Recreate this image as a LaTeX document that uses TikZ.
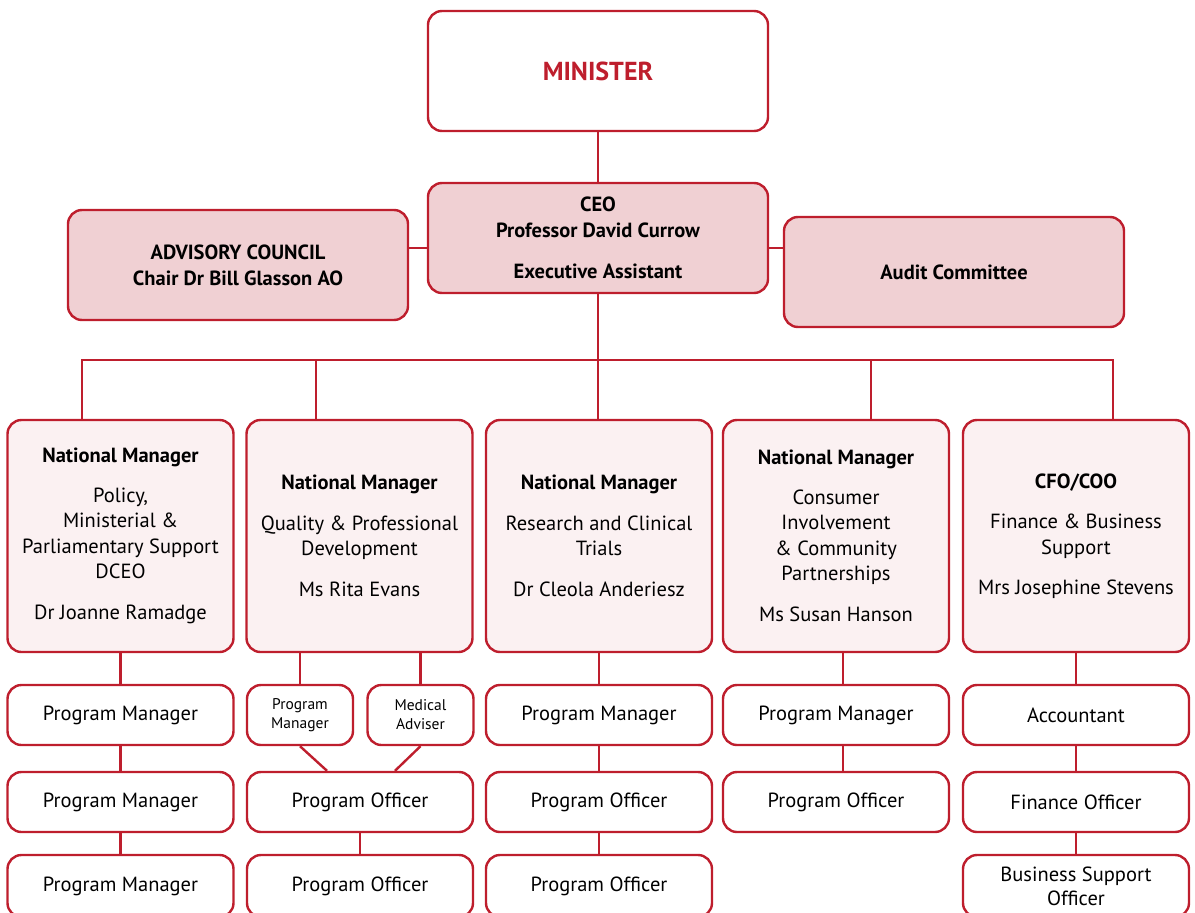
\documentclass[tikz,border=0pt]{standalone}
\usepackage{fontspec}
\setmainfont{PT Sans}
\usepackage{tikz}
\usetikzlibrary{positioning}
\definecolor{orgred}{RGB}{190,30,45}
\definecolor{leadpink}{RGB}{240,208,211}
\definecolor{mgrpink}{RGB}{251,241,242}

\begin{document}
\begin{tikzpicture}[x=1pt,y=-1pt,
	box/.style={draw=orgred, line width=2.4pt, rounded corners=14pt, fill=white, align=center,
		inner sep=0pt, font=\fontsize{20.5}{25.5}\selectfont},
	lead/.style={box, fill=leadpink, minimum width=340pt, minimum height=110pt,
		font=\bfseries\fontsize{20.5}{26}\selectfont},
	mgr/.style={box, fill=mgrpink, minimum width=226pt, minimum height=232pt},
	staff/.style={box, minimum width=226pt, minimum height=60pt},
	staffend/.style={staff, minimum height=62pt, font=\fontsize{20.5}{24}\selectfont},
	small/.style={box, minimum width=106pt, minimum height=60pt, font=\fontsize{15.5}{19}\selectfont},
	link/.style={draw=orgred, line width=2.4pt}]
	\useasboundingbox (0,0) rectangle (1195,913);

	% top
	\node[box, minimum width=340pt, minimum height=120pt, text=orgred,
		font=\bfseries\fontsize{26}{30}\selectfont] (minister) at (598,71) {MINISTER};
	\node[lead] (ceo) at (598,238) {CEO\\Professor David Currow\\[15pt]Executive Assistant};
	\node[lead] (adv) at (238,265) {ADVISORY COUNCIL\\Chair Dr Bill Glasson AO};
	\node[lead] (audit) at (954,272) {Audit Committee};

	% national managers
	\node[mgr] (nm1) at (120.5,536) {\textbf{National Manager}\\[14pt]Policy,\\Ministerial \&\\Parliamentary Support\\DCEO\\[15pt]Dr Joanne Ramadge};
	\node[mgr] (nm2) at (359.5,536) {\textbf{National Manager}\\[15pt]Quality \& Professional\\Development\\[15pt]Ms Rita Evans};
	\node[mgr] (nm3) at (599,536) {\textbf{National Manager}\\[15pt]Research and Clinical\\Trials\\[15pt]Dr Cleola Anderiesz};
	\node[mgr] (nm4) at (836,536) {\textbf{National Manager}\\[14pt]Consumer\\Involvement\\\& Community\\Partnerships\\[15pt]Ms Susan Hanson};
	\node[mgr] (nm5) at (1076,536) {\textbf{CFO/COO}\\[15pt]Finance \& Business\\Support\\[15pt]Mrs Josephine Stevens};

	% staff
	\node[staff] (pm1a) at (120.5,715) {Program Manager};
	\node[staff] (pm1b) at (120.5,802) {Program Manager};
	\node[staffend] (pm1c) at (120.5,886) {Program Manager};
	\node[small] (pm2) at (300,715) {Program\\Manager};
	\node[small] (med2) at (420.5,715) {Medical\\Adviser};
	\node[staff] (po2a) at (360,802) {Program Officer};
	\node[staffend] (po2b) at (360,886) {Program Officer};
	\node[staff] (pm3) at (599,715) {Program Manager};
	\node[staff] (po3a) at (599,802) {Program Officer};
	\node[staffend] (po3b) at (599,886) {Program Officer};
	\node[staff] (pm4) at (836,715) {Program Manager};
	\node[staff] (po4) at (836,802) {Program Officer};
	\node[staff] (acc5) at (1076,715) {Accountant};
	\node[staff] (fo5) at (1076,802) {Finance Officer};
	\node[staffend] (bso5) at (1076,886) {Business Support\\Officer};

	% links
	\draw[link] (minister) -- (ceo);
	\coordinate (ceoL) at ([yshift=-10pt]ceo.west);
	\coordinate (ceoR) at ([yshift=-10pt]ceo.east);
	\draw[link] (ceoL) -- (ceoL -| adv.east);
	\draw[link] (ceoR) -- (ceoR -| audit.west);
	\draw[link] (ceo.south) -- ++(0,66) coordinate (bus);
	\draw[link] ([xshift=-38.5pt]nm1.north) |- (bus);
	\draw[link] ([xshift=-43.5pt]nm2.north) |- (bus);
	\draw[link] ([xshift=-1pt]nm3.north) -- (bus);
	\draw[link] ([xshift=35pt]nm4.north) |- (bus);
	\draw[link] ([xshift=37pt]nm5.north) |- (bus);

	\draw[link] (nm1.south) -- (pm1a.north);
	\draw[link] (pm1a.south) -- (pm1b.north);
	\draw[link] (pm1b.south) -- (pm1c.north);
	\draw[link] ([xshift=-59.5pt]nm2.south) -- (pm2.north);
	\draw[link] ([xshift=61pt]nm2.south) -- (med2.north);
	\draw[link] (pm2.south) -- ([xshift=-33pt]po2a.north);
	\draw[link] (med2.south) -- ([xshift=35pt]po2a.north);
	\draw[link] (po2a.south) -- (po2b.north);
	\draw[link] (nm3.south) -- (pm3.north);
	\draw[link] (pm3.south) -- (po3a.north);
	\draw[link] (po3a.south) -- (po3b.north);
	\draw[link] ([xshift=7pt]nm4.south) -- ([xshift=7pt]pm4.north);
	\draw[link] ([xshift=7pt]pm4.south) -- ([xshift=7pt]po4.north);
	\draw[link] (nm5.south) -- (acc5.north);
	\draw[link] (acc5.south) -- (fo5.north);
	\draw[link] (fo5.south) -- (bso5.north);
\end{tikzpicture}
\end{document}
